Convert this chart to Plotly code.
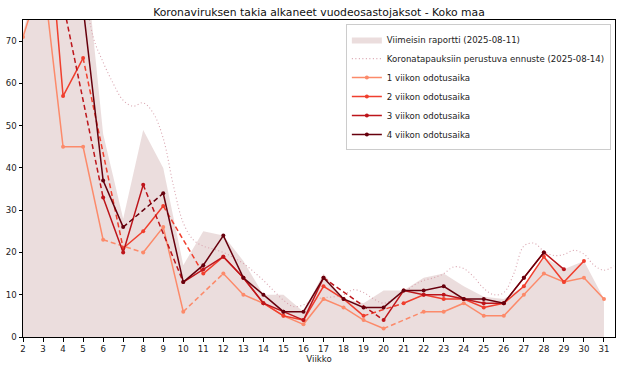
import plotly.graph_objects as go

# ---------------- data ----------------
weeks = list(range(2, 32))

latest_report = [72, 92, 110, 95, 48, 28, 49, 40, 17, 25, 24, 18, 10, 10, 6,
                 15, 9, 8, 11, 11, 14, 15, 12, 9.5, 9, 12, 19, 16, 18, 9]

forecast_weeks = [5.0, 5.5, 6.0, 6.5, 7.0, 7.5, 8.0, 8.5, 9.0, 9.5, 10.0, 10.5,
                  11.0, 11.5, 12.0, 12.5, 13.0, 13.5, 14.0, 14.5, 15.0, 15.5,
                  16.0, 16.5, 17.0, 17.5, 18.0, 18.5, 19.0, 19.5, 20.0, 20.5,
                  21.0, 21.5, 22.0, 22.5, 23.0, 23.5, 24.0, 24.5, 25.0, 25.5,
                  26.0, 26.5, 27.0, 27.5, 28.0, 28.5, 29.0, 29.5, 30.0, 30.5,
                  31.0, 31.5]
forecast_vals = [85, 71, 65, 60, 56, 54.6, 55.4, 53, 47, 36, 27, 23,
                 21.5, 20.8, 20, 18.8, 17.4, 15.5, 13.4, 11, 8.7, 7.2,
                 7.6, 8.8, 9.3, 9.5, 10, 11.2, 10.5, 9, 8, 9,
                 10.5, 12.2, 13.4, 14, 15, 16.6, 16.2, 14.2, 11.5, 10,
                 10.5, 15, 21.5, 22.2, 20.3, 19.3, 19.5, 20.5, 19.6, 17,
                 15.8, 16.8]

wait_1 = [71, 86, 45, 45, 23, None, 20, 26, 6, None, 15, 10, 8, 5, 3,
          9, 7, 4, 2, None, 6, 6, 8, 5, 5, 10, 15, 13, 14, 9]
wait_2 = [None, 113, 57, 66, None, 21, 25, 31, None, 15, 19, 14, 8, 5, 4,
          12, 9, 5, None, 8, 10, 9, 9, 7, 8, 12, 19, 13, 18, None]
wait_3 = [None, 100, 79, None, 33, 20, 36, None, 13, 16, 19, 14, 8, 6, 4,
          14, None, None, 4, 11, 10, 10, 9, 8, 8, 14, 20, 16, None, None]
wait_4 = [None, None, 95, 78, 37, 26, None, 34, 13, 17, 24, 14, 10, 6, 6,
          14, 9, 7, 7, 11, 11, 12, 9, 9, 8, 14, 20, None, None, None]

series_names = ["1 viikon odotusaika", "2 viikon odotusaika",
                "3 viikon odotusaika", "4 viikon odotusaika"]
series_data = [wait_1, wait_2, wait_3, wait_4]
series_colors = ["#fc8a6a", "#f03f2e", "#bd151b", "#67000d"]

title_text = "Koronaviruksen takia alkaneet vuodeosastojaksot - Koko maa"
font_family = "DejaVu Sans"


def gap_bridges(xs, ys):
    """Segments that join valid points across missing values."""
    bx, by = [], []
    prev = None
    for k, v in enumerate(ys):
        if v is None:
            continue
        if prev is not None and k - prev > 1:
            bx += [xs[prev], xs[k], None]
            by += [ys[prev], ys[k], None]
        prev = k
    return bx, by


fig = go.Figure()

fig.add_trace(go.Scatter(
    x=weeks, y=latest_report, mode="lines", fill="tozeroy",
    line=dict(width=0, color="rgba(188,143,143,0.3)"),
    fillcolor="rgba(188,143,143,0.3)",
    name="Viimeisin raportti (2025-08-11)"))

fig.add_trace(go.Scatter(
    x=forecast_weeks, y=forecast_vals, mode="lines",
    line=dict(color="#d8a3ae", width=1.1, dash="1px,2.5px", shape="spline"),
    name="Koronatapauksiin perustuva ennuste (2025-08-14)"))

for name, vals, col in zip(series_names, series_data, series_colors):
    bx, by = gap_bridges(weeks, vals)
    fig.add_trace(go.Scatter(
        x=bx, y=by, mode="lines", legendgroup=name, showlegend=False,
        line=dict(color=col, width=1.5, dash="5px,3px"), hoverinfo="skip"))
    fig.add_trace(go.Scatter(
        x=weeks, y=vals, mode="lines+markers", legendgroup=name, name=name,
        line=dict(color=col, width=1.5), marker=dict(color=col, size=4),
        connectgaps=False))

axis_common = dict(showline=True, mirror=True, linecolor="black", linewidth=1,
                   showgrid=False, zeroline=False, ticks="outside", ticklen=3.5,
                   tickwidth=0.8, tickcolor="black", automargin=False,
                   tickfont=dict(family=font_family, size=8.6, color="#222"))

fig.update_layout(
    width=621, height=371,
    margin=dict(l=23, r=6, t=20, b=34),
    paper_bgcolor="white", plot_bgcolor="white",
    font=dict(family=font_family, size=8.6, color="#222"),
    title=dict(text=title_text, x=0.5, xref="paper", xanchor="center",
               y=1 - 12 / 371, yanchor="middle",
               font=dict(family=font_family, size=10.8, color="#111")),
    xaxis=dict(range=[2, 31.55], tickvals=weeks,
               title=dict(text="Viikko", standoff=2,
                          font=dict(family=font_family, size=8.6, color="#222")),
               **axis_common),
    yaxis=dict(range=[0, 75], tickvals=[0, 10, 20, 30, 40, 50, 60, 70],
               **axis_common),
    legend=dict(x=0.993, y=0.987, xanchor="right", yanchor="top",
                bgcolor="rgba(255,255,255,0.85)", bordercolor="#cccccc",
                borderwidth=1, font=dict(family=font_family, size=8.6, color="#222"),
                tracegroupgap=0),
    showlegend=True,
)

fig.write_html("out.html",
               config={"displayModeBar": False},
               post_script="document.body.style.margin='0';"
                           "document.body.style.padding='0';")
